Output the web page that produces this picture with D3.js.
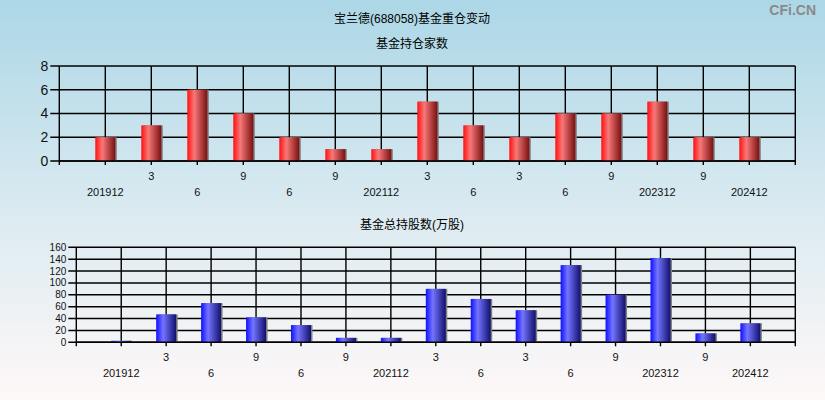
<!DOCTYPE html>
<html>
<head>
<meta charset="utf-8">
<script src="https://cdn.jsdelivr.net/npm/d3@7"></script>
<style>
  body { margin: 0; padding: 0; }
  svg { display: block; font-family: Arial, "Liberation Sans", "Noto Sans CJK SC", sans-serif; }
</style>
</head>
<body>
<svg id="chart" width="825" height="400"></svg>
<script>
// x labels, one per report period
var periods = ["201912", "3", "6", "9", "6", "9", "202112", "3", "6", "3", "6", "9", "202312", "9", "202412"];
// number of funds holding
var fundCount = [2, 3, 6, 4, 2, 1, 1, 5, 3, 2, 4, 4, 5, 2, 2];
// total shares held (10k shares)
var sharesHeld = [2.5, 47, 66, 42, 29, 7.5, 7.5, 90, 73, 54, 130, 80, 142, 15, 32];
var countTicks = [0, 2, 4, 6, 8];
var shareTicks = [0, 20, 40, 60, 80, 100, 120, 140, 160];

var svg = d3.select("#chart");
var defs = svg.append("defs");

// background
var bg = defs.append("linearGradient").attr("id", "bg")
  .attr("x1", "0").attr("y1", "0").attr("x2", "0").attr("y2", "1");
bg.append("stop").attr("offset", "0%").attr("stop-color", "#acd7e6");
bg.append("stop").attr("offset", "55%").attr("stop-color", "#dcebf1");
bg.append("stop").attr("offset", "100%").attr("stop-color", "#fff8f8");
svg.append("rect").attr("width", 825).attr("height", 400).attr("fill", "url(#bg)");

function barGrad(id, c1, c2, c3) {
  var g = defs.append("linearGradient").attr("id", id)
    .attr("x1", "0").attr("y1", "0").attr("x2", "1").attr("y2", "0");
  g.append("stop").attr("offset", "0%").attr("stop-color", c1);
  g.append("stop").attr("offset", "35%").attr("stop-color", c2);
  g.append("stop").attr("offset", "100%").attr("stop-color", c3);
}
barGrad("redbar", "#ff1010", "#f87878", "#7a1010");
barGrad("bluebar", "#1010ff", "#7474ff", "#10106e");

// titles
svg.append("text").attr("x", 412).attr("y", 23).attr("text-anchor", "middle")
  .style("font-size", "12px").text("宝兰德(688058)基金重仓变动");
svg.append("text").attr("x", 816).attr("y", 15).attr("text-anchor", "end")
  .style("font-size", "14px").style("font-weight", "bold").attr("fill", "#8a8a8a")
  .text("CFi.CN");

//fn to draw one panel
function panel(spec) {
  var x = d3.scaleLinear().domain([0, periods.length + 1]).range([spec.left, spec.right]);
  var y = d3.scaleLinear().domain([0, spec.max]).range([spec.bottom, spec.top]);
  var g = svg.append("g");

  g.append("text").attr("x", 412).attr("y", spec.titleY).attr("text-anchor", "middle")
    .style("font-size", "12px").text(spec.title);

  // horizontal grid
  g.selectAll(".hgrid").data(spec.ticks).enter().append("line")
    .attr("x1", spec.left - spec.tickLen).attr("x2", spec.right)
    .attr("y1", d => y(d)).attr("y2", d => y(d))
    .attr("stroke", "#000").attr("stroke-width", 1.4);

  // vertical grid
  var idx = d3.range(periods.length + 2);
  g.selectAll(".vgrid").data(idx).enter().append("line")
    .attr("x1", d => x(d)).attr("x2", d => x(d))
    .attr("y1", spec.top).attr("y2", spec.bottom + 4)
    .attr("stroke", "#000").attr("stroke-width", 1.4);

  g.selectAll(".ylab").data(spec.ticks).enter().append("text")
    .attr("x", spec.left - spec.tickLen - 2).attr("y", d => y(d))
    .attr("dy", "0.35em").attr("text-anchor", "end")
    .style("font-size", spec.yFont).attr("fill", "#111")
    .text(d => d);

  // bars
  var bw = 20;
  var bars = g.selectAll(".bar").data(spec.values).enter().append("g");
  bars.append("rect")
    .attr("x", (d, i) => x(i + 1) - bw / 2 + 1.5)
    .attr("y", d => y(d))
    .attr("width", bw)
    .attr("height", d => spec.bottom - y(d))
    .attr("fill", "#808080");
  bars.append("rect")
    .attr("x", (d, i) => x(i + 1) - bw / 2)
    .attr("y", d => y(d))
    .attr("width", bw)
    .attr("height", d => spec.bottom - y(d))
    .attr("fill", spec.fill);

  // redraw axis line on top of bars
  g.append("line").attr("x1", spec.left).attr("x2", spec.right)
    .attr("y1", spec.bottom).attr("y2", spec.bottom)
    .attr("stroke", "#000").attr("stroke-width", 1.4);

  g.selectAll(".xlab").data(periods).enter().append("text")
    .attr("x", (d, i) => x(i + 1))
    .attr("y", (d, i) => i % 2 === 0 ? spec.row2 : spec.row1)
    .attr("text-anchor", "middle")
    .style("font-size", "11px").attr("fill", "#111")
    .text(d => d);
}

panel({
  title: "基金持仓家数", titleY: 48,
  values: fundCount, ticks: countTicks, max: 8,
  left: 59.3, right: 795.3, top: 66, bottom: 161,
  tickLen: 9, yFont: "14px", row1: 180, row2: 196,
  fill: "url(#redbar)"
});

panel({
  title: "基金总持股数(万股)", titleY: 229,
  values: sharesHeld, ticks: shareTicks, max: 160,
  left: 76.3, right: 795.3, top: 247.3, bottom: 342.3,
  tickLen: 8, yFont: "10px", row1: 361, row2: 377,
  fill: "url(#bluebar)"
});
</script>
</body>
</html>
